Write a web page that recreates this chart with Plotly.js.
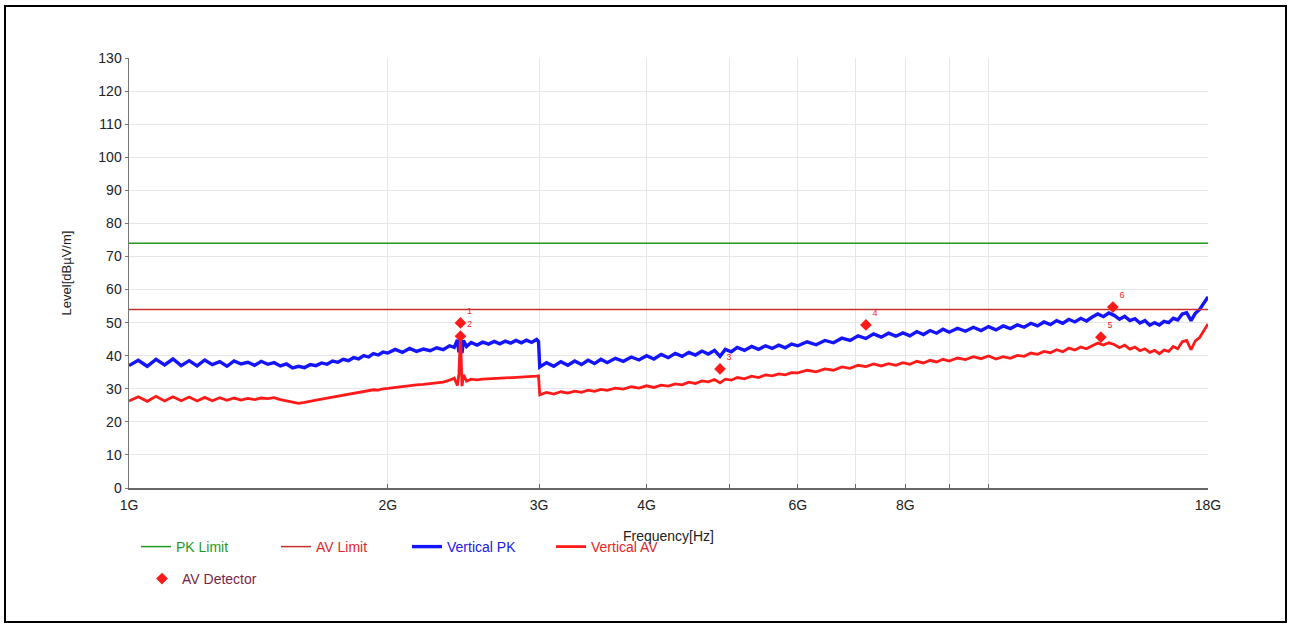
<!DOCTYPE html>
<html><head><meta charset="utf-8">
<script src="https://cdn.plot.ly/plotly-3.0.1.min.js"></script>
<style>
body{margin:0;background:#fff}
#chart{width:1289px;height:624px}
#frame{position:absolute;left:4px;top:5px;width:1279px;height:614px;border:2px solid #000;pointer-events:none}
</style>
</head><body>
<div id="chart"></div><div id="frame"></div>
<script>
// Frequencies in GHz
const freqGHz = [
 1.000,1.025,1.050,1.075,1.100,1.125,1.150,1.175,1.200,1.225,1.250,1.275,1.300,1.325,1.350,1.375,1.400,1.425,1.450,1.475,
 1.500,1.525,1.550,1.575,1.600,1.625,1.650,1.675,1.700,1.725,1.750,1.775,1.800,1.825,1.850,1.875,1.900,1.925,1.950,1.975,
 2.00,2.04,2.08,2.12,2.16,2.20,2.24,2.28,2.32,2.36,2.39,2.41,2.42,2.43,2.44,2.45,2.47,2.50,2.54,2.58,
 2.62,2.66,2.70,2.74,2.78,2.82,2.86,2.90,2.94,2.98,2.995,
 3.005,3.06,3.12,3.18,3.24,3.30,3.36,3.42,3.48,3.54,3.60,3.68,3.76,3.84,3.92,4.00,4.08,4.16,4.24,4.32,
 4.40,4.48,4.56,4.64,4.72,4.80,4.87,4.94,5.02,5.10,5.20,5.30,5.40,5.50,5.60,5.70,5.80,5.90,
 6.00,6.15,6.30,6.45,6.60,6.75,6.90,7.05,7.20,7.35,7.50,7.65,7.80,7.95,8.10,8.25,8.40,8.55,8.70,8.85,
 9.00,9.20,9.40,9.60,9.80,10.0,10.2,10.4,10.6,10.8,11.0,11.2,11.4,11.6,11.8,
 12.0,12.2,12.4,12.6,12.8,13.0,13.2,13.4,13.6,13.8,14.0,14.2,14.4,14.6,14.8,15.0,15.2,15.4,15.6,15.8,
 16.0,16.2,16.4,16.6,16.8,17.0,17.2,17.4,17.6,17.8,18.0
];
const verticalPK = [
 37.0,38.6,36.8,38.9,37.2,39.0,37.0,38.5,36.9,38.7,37.3,38.2,36.8,38.4,37.5,38.0,37.1,38.3,37.4,37.9,
 36.9,37.5,36.3,36.8,36.4,37.3,37.0,37.8,37.4,38.4,38.0,38.9,38.5,39.4,39.0,40.0,39.6,40.6,40.2,41.1,
 40.8,41.9,41.0,42.2,41.3,42.0,41.5,42.4,41.8,43.0,42.5,44.8,41.0,45.6,40.8,44.6,42.8,44.0,43.2,44.1,
 43.5,44.3,43.6,44.4,43.8,44.6,43.9,44.7,44.0,44.9,44.3,
 36.6,37.9,36.8,38.2,37.1,38.4,37.3,38.6,37.6,38.9,37.9,39.2,38.3,39.6,38.7,40.0,39.0,40.4,39.4,40.7,
 39.8,41.0,40.2,41.4,40.5,41.6,39.8,41.9,41.2,42.5,41.6,42.8,41.9,43.0,42.2,43.2,42.4,43.5,
 43.0,44.2,43.3,44.6,43.9,45.3,44.6,46.0,45.2,46.6,45.6,46.8,45.9,46.9,46.0,47.3,46.4,47.6,46.8,48.0,
 47.1,48.3,47.4,48.6,47.6,48.8,47.8,49.0,48.2,49.3,48.6,49.8,49.0,50.2,49.4,
 50.6,49.8,51.0,50.2,51.3,50.5,51.7,52.6,51.8,52.9,52.2,51.0,51.9,50.6,51.2,49.9,50.6,49.2,50.0,49.3,
 50.4,50.0,51.3,50.8,52.6,53.0,50.6,52.8,54.0,56.0,57.8
];
const verticalAV = [
 26.3,27.6,26.2,27.7,26.3,27.6,26.4,27.5,26.3,27.4,26.4,27.3,26.5,27.2,26.6,27.1,26.7,27.2,27.0,27.3,
 26.7,26.4,25.9,25.6,25.9,26.3,26.6,26.9,27.2,27.5,27.7,28.1,28.3,28.7,28.8,29.2,29.3,29.7,29.6,30.0,
 30.1,30.4,30.6,31.0,31.2,31.3,31.5,31.8,32.0,32.6,33.2,31.0,34.5,46.5,30.8,34.2,32.3,32.9,32.7,32.9,
 33.0,32.9,33.1,33.2,33.3,33.4,33.5,33.6,33.7,33.8,33.9,
 28.2,28.9,28.4,29.1,28.7,29.3,28.9,29.6,29.2,29.8,29.5,30.2,29.9,30.6,30.2,30.9,30.4,31.1,30.8,31.5,
 31.2,32.0,31.6,32.4,32.1,32.8,31.8,32.9,32.6,33.4,33.0,33.8,33.4,34.2,33.9,34.5,34.2,34.9,
 34.8,35.6,35.1,36.0,35.6,36.6,36.2,37.1,36.7,37.5,36.9,37.6,37.1,37.9,37.4,38.3,37.8,38.6,38.1,38.9,
 38.4,39.3,38.8,39.7,39.1,39.9,39.0,39.7,39.2,40.1,39.8,40.8,40.4,41.3,40.9,
 41.8,41.2,42.3,41.7,42.6,42.1,43.0,43.8,43.2,43.9,43.4,42.4,43.2,42.0,42.6,41.5,42.1,41.0,41.6,40.6,
 41.7,41.3,42.8,42.1,44.2,44.6,41.8,44.5,45.5,47.4,49.6
];
const limitFreq = [1, 18];
const pkLimit = [74, 74];
const avLimit = [54, 54];
const detFreq = [2.43, 2.43, 4.87, 7.20, 13.51, 13.95];
const detLevel = [49.9, 45.9, 36.0, 49.3, 45.6, 54.7];
const detLabels = ['1','2','3','4','5','6'];
const xTickVals = [1,2,3,4,5,6,7,8,9,10,18];
const xTickText = ['1G','2G','3G','4G','','6G','','8G','','','18G'];
const yTickVals = [0,10,20,30,40,50,60,70,80,90,100,110,120,130];

const FONT = 'Arial, "Liberation Sans", sans-serif';
const traces = [
  {x: freqGHz, y: verticalPK, mode:'lines', name:'Vertical PK', legend:'legend3',
   line:{color:'#1414ff', width:3.4}},
  {x: freqGHz, y: verticalAV, mode:'lines', name:'Vertical AV', legend:'legend4',
   line:{color:'#ff1a1a', width:2.8}},
  {x: limitFreq, y: pkLimit, mode:'lines', name:'PK Limit', legend:'legend',
   line:{color:'#1f9a1f', width:1.5}},
  {x: limitFreq, y: avLimit, mode:'lines', name:'AV Limit', legend:'legend2',
   line:{color:'#c83030', width:1.5}},
  {x: detFreq, y: detLevel, mode:'markers+text', name:'AV Detector', legend:'legend5',
   text: detLabels, textposition:'top right', textfont:{size:9, color:'#ff2020', family:FONT},
   marker:{symbol:'diamond', size:9, color:'#ff1a1a'}},
];

// plot area: x 129..1208 px, y 58..488 px
function leg(xpx, ypx, color){
  return {xref:'paper', yref:'paper', x:(xpx-129)/1079, y:(488-ypx)/430,
    xanchor:'left', yanchor:'middle', orientation:'h', bgcolor:'rgba(0,0,0,0)', borderwidth:0,
    font:{family:FONT, size:14, color:color}};
}

const layout = {
  width:1289, height:624,
  paper_bgcolor:'#fff', plot_bgcolor:'#fff',
  margin:{l:129, r:81, t:58, b:136, autoexpand:false},
  font:{family:FONT, size:14, color:'#222'},
  xaxis:{type:'log', range:[0, Math.log10(18)], tickvals:xTickVals, ticktext:xTickText, automargin:false,
    showgrid:true, gridcolor:'#e6e6e6', gridwidth:1, zeroline:false,
    showline:true, linecolor:'#666', linewidth:1.5, ticks:'inside', ticklen:4, tickcolor:'#666',
    ticklabelstandoff:4, tickfont:{size:14, color:'#222'},
    title:{text:'Frequency[Hz]', font:{size:14, color:'#222'}, standoff:19}},
  yaxis:{range:[0,130], tickvals:yTickVals, showgrid:true, gridcolor:'#e6e6e6', gridwidth:1, automargin:false,
    zeroline:false, showline:true, linecolor:'#777', linewidth:1.5, ticks:'outside', ticklen:3,
    tickcolor:'#777', tickfont:{size:14, color:'#222'},
    title:{text:'Level[dBµV/m]', font:{size:13, color:'#222'}, standoff:24}},
  showlegend:true,
  legend: leg(136, 547, '#1f9a1f'),
  legend2: leg(276, 547, '#e02828'),
  legend3: leg(407, 547, '#2020e0'),
  legend4: leg(551, 547, '#e02828'),
  legend5: leg(142, 579, '#7a1f45'),
};

Plotly.newPlot('chart', traces, layout, {displayModeBar:false, staticPlot:true});
</script>
</body></html>
